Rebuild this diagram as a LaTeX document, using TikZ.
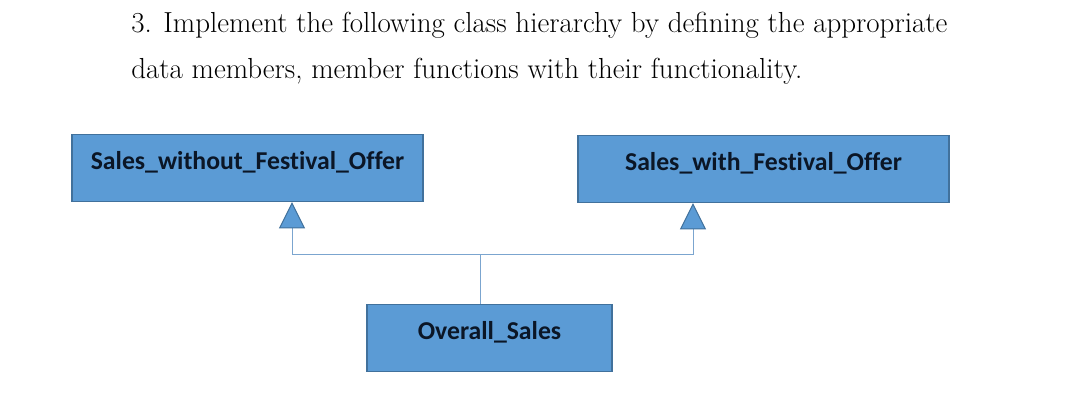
\documentclass[tikz,border=0pt]{standalone}
\usepackage{fontspec}
\newfontfamily\boxfont[Ligatures=NoCommon]{Carlito}
\usetikzlibrary{arrows.meta, positioning}

\definecolor{boxblue}{HTML}{5B9BD5}
\definecolor{boxedge}{HTML}{41719C}
\definecolor{linkblue}{HTML}{7BA5CF}
\definecolor{boxtext}{HTML}{0B1626}

\begin{document}
\begin{tikzpicture}[
    x=0.025cm, y=-0.025cm,
    heading/.style={anchor=base west, inner sep=0pt, font=\fontsize{20.6}{24}\selectfont},
    classbox/.style={draw=boxedge, fill=boxblue, line width=0.9pt, anchor=north, inner xsep=0pt, inner ysep=0pt,
        minimum width=#1, text height=25pt, text depth=22.5pt, text=boxtext,
        font=\boxfont\bfseries\fontsize{18.3}{22}\selectfont},
    inherit/.style={draw=linkblue, line width=0.7pt,
        -{Triangle[width=0.65cm, length=0.66cm, color=boxedge, fill=boxblue]}}
]
\useasboundingbox (0,0) rectangle (1080,401);

% Text
\node[heading] (line1) at (131,32) {3. Implement the following class hierarchy by defining the appropriate};
\node[heading] (line2) at (131,78) {data members, member functions with their functionality.};

% Nodes
\node[classbox=8.775cm] (without) at (247.5,134) {Sales\_without\_Festival\_Offer};
\node[classbox=9.275cm] (with) at (763.5,135) {Sales\_with\_Festival\_Offer};
\node[classbox=6.125cm] (overall) at (489.5,304) {Overall\_Sales};

% Arrows - inheritance
\coordinate (join) at (480,254);
\coordinate (leftup) at (292,254);
\coordinate (rightup) at (693,254);
\draw[draw=linkblue, line width=0.7pt] (overall.north -| join) -- (join);
\draw[inherit] (join) -- (leftup) -- (leftup |- without.south);
\draw[inherit] (join) -- (rightup) -- (rightup |- with.south);

\end{tikzpicture}
\end{document}
